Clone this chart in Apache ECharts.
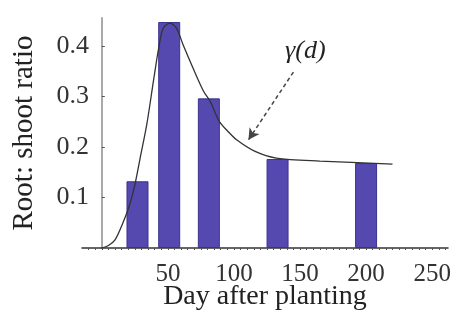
<!DOCTYPE html>
<html>
<head>
<meta charset="utf-8">
<script src="https://cdn.jsdelivr.net/npm/echarts@6/dist/echarts.min.js"></script>
<style>
    html, body { margin: 0; padding: 0; background: #fff; }
    #chart { width: 452px; height: 323px; }
</style>
</head>
<body>
<div id="chart"></div>
<script>
// measured bars (day, root:shoot ratio)
const barDays = [27, 51, 81, 133, 200];
const barRatios = [0.132, 0.447, 0.296, 0.176, 0.168];

// fitted curve gamma(d)
const curveDays = [0, 5, 10, 16, 21, 25, 29, 34, 39, 43, 46.5, 51.5, 56.5, 61.5, 69, 77, 82, 89, 95, 102, 116, 132, 165, 220];
const curveRatios = [0, 0.005, 0.016, 0.05, 0.085, 0.125, 0.178, 0.244, 0.329, 0.395, 0.435, 0.445, 0.435, 0.402, 0.356, 0.31, 0.29, 0.25, 0.232, 0.214, 0.191, 0.178, 0.172, 0.166];

const xTicks = [50, 100, 150, 200, 250];
const yTicks = [0.1, 0.2, 0.3, 0.4];

// annotation (data coords)
const arrowFrom = [145, 0.348];
const arrowTo = [111, 0.214];
const labelAt = [154, 0.39];

const serif = 'Liberation Serif';

let chart = echarts.init(document.getElementById('chart'), null, {renderer: 'canvas'});

let option = {
    animation: false,
    backgroundColor: '#fff',
    grid: {left: 82, right: 4, top: 18, bottom: 75, outerBoundsMode: 'none'},
    xAxis: {
        type: 'value',
        min: -15,
        max: 262,
        interval: 5,
        name: 'Day after planting',
        nameLocation: 'middle',
        nameGap: 35,
        nameMoveOverlap: false,
        nameTextStyle: {fontFamily: serif, fontSize: 28, color: '#222'},
        axisLine: {lineStyle: {color: '#333', width: 1.5}},
        axisTick: {show: true, length: 2, lineStyle: {color: '#555', width: 1}},
        axisLabel: {
            margin: 14,
            fontFamily: serif,
            fontSize: 25,
            color: '#333',
            showMinLabel: false,
            showMaxLabel: false,
            formatter: v => xTicks.indexOf(Math.round(v)) >= 0 ? String(Math.round(v)) : ''
        },
        splitLine: {show: false}
    },
    yAxis: {
        type: 'value',
        min: 0,
        max: 0.455,
        interval: 0.1,
        name: 'Root: shoot ratio',
        nameLocation: 'middle',
        nameGap: 43,
        nameMoveOverlap: false,
        nameTextStyle: {fontFamily: serif, fontSize: 29, color: '#222'},
        axisLine: {onZero: true, lineStyle: {color: '#aaa', width: 2}},
        axisTick: {show: true, length: 3, inside: true, lineStyle: {color: '#555'}},
        axisLabel: {
            margin: -7,
            fontFamily: serif,
            fontSize: 26,
            color: '#333',
            showMinLabel: false,
            showMaxLabel: false,
            formatter: v => yTicks.some(t => Math.abs(t - v) < 1e-6) ? v.toFixed(1) : ''
        },
        splitLine: {show: false}
    },
    series: [
        {
            type: 'bar',
            barWidth: 22,
            data: barDays.map((d, i) => [d, barRatios[i]]),
            itemStyle: {color: '#5549b0', borderColor: '#3a3290', borderWidth: 1},
            z: 2
        },
        {
            type: 'line',
            smooth: 0.3,
            showSymbol: false,
            data: curveDays.map((d, i) => [d, curveRatios[i]]),
            lineStyle: {color: '#333', width: 1.3},
            z: 3,
            markLine: {
                silent: true,
                symbol: ['none', 'arrow'],
                symbolSize: [9, 11],
                lineStyle: {type: [4, 3], color: '#444', width: 1.5},
                label: {show: false},
                data: [[{coord: arrowFrom}, {coord: arrowTo}]]
            },
            markPoint: {
                silent: true,
                symbol: 'rect',
                symbolSize: 1,
                itemStyle: {color: 'rgba(0,0,0,0)'},
                label: {
                    show: true,
                    position: 'inside',
                    formatter: 'γ(d)',
                    fontFamily: serif,
                    fontStyle: 'italic',
                    fontSize: 26,
                    color: '#222'
                },
                data: [{coord: labelAt}]
            }
        }
    ]
};

chart.setOption(option, true);
</script>
</body>
</html>
